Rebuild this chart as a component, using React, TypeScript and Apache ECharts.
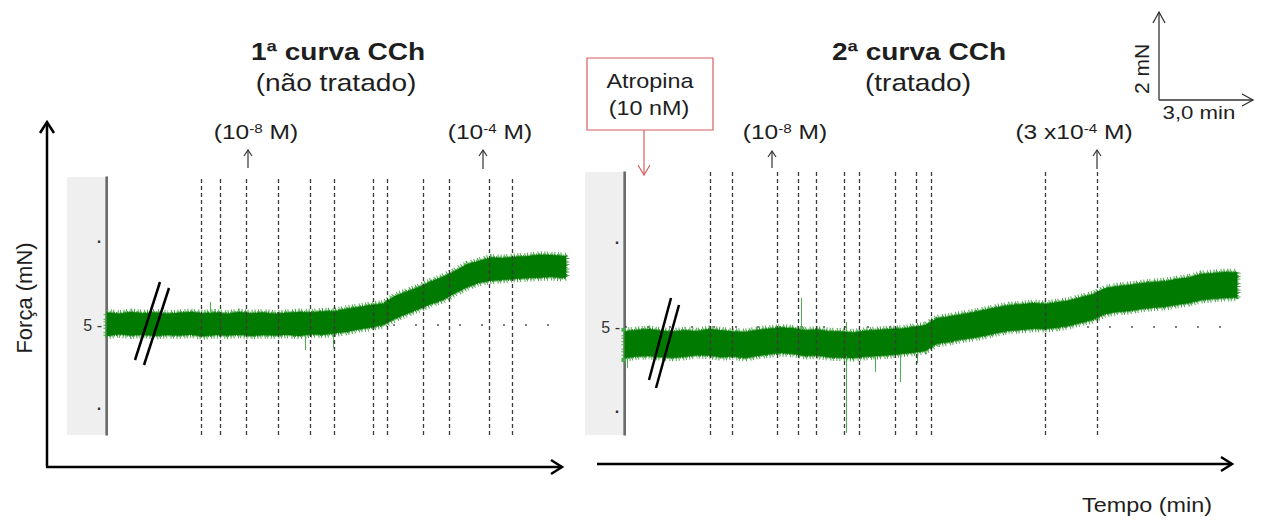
import React, { useEffect, useRef } from 'react';
import * as echarts from 'echarts';

// ---------- DATA (time in min, force in mN) ----------
const p1Time = [0, 0.4, 0.8, 1.2, 1.6, 2, 2.4, 2.8, 3.2, 3.6, 4, 4.4, 4.8, 5.2, 5.6, 6, 6.4, 6.8, 7.2, 7.6, 8, 8.4, 8.8, 9.2, 9.6, 10, 10.4, 10.8, 11.2, 11.6, 12, 12.4, 12.8, 13.2, 13.6, 14, 14.4, 14.8, 15.2, 15.3];
const p1Low = [4.74, 4.78, 4.75, 4.77, 4.74, 4.76, 4.75, 4.77, 4.73, 4.76, 4.75, 4.77, 4.74, 4.76, 4.75, 4.77, 4.74, 4.78, 4.77, 4.80, 4.84, 4.90, 4.94, 5.00, 5.15, 5.27, 5.38, 5.50, 5.60, 5.76, 5.90, 6.01, 6.06, 6.08, 6.10, 6.12, 6.13, 6.15, 6.12, 6.14];
const p1High = [5.30, 5.27, 5.31, 5.28, 5.30, 5.27, 5.29, 5.31, 5.28, 5.30, 5.27, 5.31, 5.28, 5.30, 5.27, 5.29, 5.31, 5.30, 5.33, 5.33, 5.39, 5.43, 5.48, 5.51, 5.69, 5.80, 5.91, 6.04, 6.15, 6.29, 6.45, 6.53, 6.61, 6.60, 6.63, 6.64, 6.68, 6.67, 6.65, 6.64];
const p1Doses = [3.13, 3.77, 4.63, 5.70, 6.77, 7.57, 8.87, 9.33, 10.53, 11.40, 12.73, 13.50];
const p1Spikes = [[3.43, 5.28, 5.55], [6.6, 4.76, 4.40], [7.53, 4.78, 4.44]];

const p2Time = [0, 0.4, 0.8, 1.2, 1.6, 2, 2.4, 2.8, 3.2, 3.6, 4, 4.4, 4.8, 5.2, 5.6, 6, 6.4, 6.8, 7.2, 7.6, 8, 8.4, 8.8, 9.2, 9.6, 10, 10.4, 10.8, 11.2, 11.6, 12, 12.4, 12.8, 13.2, 13.6, 14, 14.4, 14.8, 15.2, 15.6, 16, 16.4, 16.8, 17.2, 17.6, 18, 18.4, 18.8, 19.2, 19.6, 20, 20.4];
const p2Low = [4.26, 4.30, 4.31, 4.28, 4.27, 4.29, 4.33, 4.32, 4.28, 4.30, 4.26, 4.31, 4.35, 4.38, 4.36, 4.31, 4.32, 4.28, 4.27, 4.26, 4.29, 4.31, 4.33, 4.36, 4.39, 4.43, 4.60, 4.64, 4.70, 4.74, 4.79, 4.86, 4.91, 4.93, 4.96, 4.95, 4.98, 5.03, 5.10, 5.17, 5.31, 5.36, 5.38, 5.43, 5.46, 5.48, 5.53, 5.57, 5.64, 5.67, 5.69, 5.70];
const p2High = [4.90, 4.93, 4.95, 4.91, 4.89, 4.92, 4.90, 4.95, 4.92, 4.89, 4.88, 4.93, 4.96, 4.99, 4.97, 4.92, 4.94, 4.90, 4.89, 4.87, 4.91, 4.93, 4.95, 4.96, 5.00, 5.04, 5.21, 5.25, 5.30, 5.35, 5.41, 5.47, 5.52, 5.54, 5.57, 5.55, 5.59, 5.63, 5.71, 5.78, 5.92, 5.97, 6.00, 6.04, 6.07, 6.09, 6.14, 6.18, 6.26, 6.28, 6.31, 6.30];
const p2Doses = [2.83, 3.58, 5.06, 5.76, 6.36, 7.30, 7.81, 9.0, 9.70, 10.22, 14.0, 15.74];
const p2Spikes = [[0.07, 4.28, 4.02], [5.87, 4.94, 5.69], [7.37, 4.30, 2.48], [7.37, 4.90, 5.12], [8.33, 4.30, 3.93], [9.17, 4.36, 3.69], [9.73, 4.35, 4.14]];

const yTicks = [3, 5, 7];
const refLevel = 5;

const titles = [['1ª curva CCh', '(não tratado)'], ['2ª curva CCh', '(tratado)']];
const concLabels = [
  { base: '(10', sup: '-8', tail: ' M)' },
  { base: '(10', sup: '-4', tail: ' M)' },
  { base: '(10', sup: '-8', tail: ' M)' },
  { base: '(3 x10', sup: '-4', tail: ' M)' },
];

// ---------- STYLE ----------
const FONT = '"Liberation Sans", Arial, sans-serif';
const SX = 1.17;
const TXT = '#1e1e1e';
const DARK_GREEN = '#007a00';
const EDGE_GREEN = '#4aa94a';
const RED = '#d65f5f';

function txt(text: string, x: number, y: number, size: number, extra: any = {}, rot = 0, scale = SX) {
  return {
    type: 'text', x, y, rotation: rot, scaleX: scale, z: 20,
    style: { text, fontSize: size, fontFamily: FONT, fill: TXT, align: 'center', verticalAlign: 'middle', ...extra },
  };
}
function supTxt(l: { base: string; sup: string; tail: string }, x: number, y: number) {
  return {
    type: 'text', x, y, scaleX: SX, z: 20,
    style: {
      text: `${l.base}{s|${l.sup}}${l.tail}`,
      fontSize: 21, fontFamily: FONT, fill: TXT, align: 'center', verticalAlign: 'middle',
      rich: { s: { fontSize: 13, fontFamily: FONT, fill: TXT, verticalAlign: 'top', lineHeight: 13 } },
    },
  };
}
function line(x1: number, y1: number, x2: number, y2: number, color: string, w: number) {
  return { type: 'line', z: 20, shape: { x1, y1, x2, y2 }, style: { stroke: color, lineWidth: w } };
}
function chevron(points: number[][], color: string, w: number) {
  return { type: 'polyline', z: 20, shape: { points }, style: { stroke: color, lineWidth: w, fill: 'none' } };
}
function upArrow(x: number, top: number, bottom: number, color: string, w: number, hw: number, hd: number) {
  return [line(x, bottom, x, top, color, w), chevron([[x - hw, top + hd], [x, top], [x + hw, top + hd]], color, w)];
}

function panelSeries(gi: number, time: number[], lo: number[], hi: number[], doses: number[], spikes: number[][]) {
  const yi = gi * 2;
  return [
    {
      type: 'line', xAxisIndex: gi, yAxisIndex: yi, data: [], z: 1, silent: true,
      markLine: {
        silent: true, symbol: ['none', 'none'], z: 1, label: { show: false },
        lineStyle: { type: [2, 20], color: '#555', width: 1.6 },
        data: [{ yAxis: refLevel }],
      },
    },
    {
      type: 'custom', xAxisIndex: gi, yAxisIndex: yi, z: 2, silent: true, clip: false,
      data: time.map((t, i) => [t, lo[i], hi[i]]),
      renderItem: (params: any, api: any) => {
        if (params.dataIndex !== 0) return null;
        const top = time.map((t, i) => api.coord([t, hi[i]]));
        const bottom = time.map((t, i) => api.coord([t, lo[i]])).reverse();
        const pts = [...top, ...bottom];
        return {
          type: 'group',
          children: [
            { type: 'polygon', shape: { points: pts }, style: { fill: 'none', stroke: EDGE_GREEN, lineWidth: 7, lineDash: [1, 2.5, 1, 1.5, 1, 3.5, 1, 2] } },
            { type: 'polygon', shape: { points: pts }, style: { fill: 'none', stroke: '#2a912a', lineWidth: 3, lineDash: [1, 1.5, 1, 1] } },
            { type: 'polygon', shape: { points: pts }, style: { fill: DARK_GREEN, stroke: DARK_GREEN, lineWidth: 0.5 } },
          ],
        };
      },
    },
    {
      type: 'line', xAxisIndex: gi, yAxisIndex: yi, data: [], z: 5, silent: true,
      markLine: {
        silent: true, symbol: ['none', 'none'], z: 5, label: { show: false },
        data: [
          ...spikes.map((s) => [
            { coord: [s[0], s[1]], lineStyle: { type: 'solid', color: '#4caf50', width: 1 } },
            { coord: [s[0], s[2]] },
          ]),
          ...doses.map((d) => ({ xAxis: d, lineStyle: { type: [4, 3], color: '#3c3c3c', width: 1.3 } })),
        ],
      },
    },
  ];
}

function yAxes(gi: number, min: number, max: number) {
  return [
    {
      type: 'value', gridIndex: gi, min, max, position: 'left',
      axisLine: { show: true, lineStyle: { color: '#3a3a3a', width: 1.5 } },
      axisTick: { show: false }, splitLine: { show: false },
      axisLabel: {
        customValues: yTicks, margin: 5, color: '#333', fontSize: 16,
        fontFamily: '"Liberation Sans Narrow", "Liberation Sans", sans-serif',
        formatter: (v: number) => (v === 5 ? '5 -' : '{d|·}'),
        rich: { d: { fontSize: 16, fontWeight: 'bold', color: '#333' } },
      },
    },
    {
      type: 'value', gridIndex: gi, min, max, position: 'left', offset: 2,
      axisLine: { show: true, lineStyle: { color: '#9a9a9a', width: 1 } },
      axisTick: { show: false }, splitLine: { show: false }, axisLabel: { show: false },
    },
  ];
}

const graphics: any[] = [
  { type: 'rect', z: -1, shape: { x: 67, y: 177, width: 38, height: 258 }, style: { fill: '#efefef' } },
  { type: 'rect', z: -1, shape: { x: 585, y: 172, width: 38, height: 263 }, style: { fill: '#efefef' } },
  txt(titles[0][0], 338, 52, 24, { fontWeight: 'bold' }),
  txt(titles[0][1], 336, 83, 24),
  txt(titles[1][0], 919, 52, 24, { fontWeight: 'bold' }),
  txt(titles[1][1], 918, 83, 24),
  supTxt(concLabels[0], 256, 132),
  ...upArrow(248, 150, 168, '#333', 1.2, 4, 6),
  supTxt(concLabels[1], 490, 132),
  ...upArrow(483, 150, 169, '#333', 1.2, 4, 6),
  supTxt(concLabels[2], 785, 132),
  ...upArrow(772, 151, 168, '#333', 1.2, 4, 6),
  supTxt(concLabels[3], 1074, 132),
  ...upArrow(1097, 150, 169, '#333', 1.2, 4, 6),
  { type: 'rect', z: 20, shape: { x: 587, y: 58, width: 126, height: 72 }, style: { fill: '#fff', stroke: RED, lineWidth: 1.2 } },
  txt('Atropina', 650, 81, 20),
  txt('(10 nM)', 649, 108, 20),
  line(644, 130, 644, 175, RED, 1.2),
  chevron([[638, 165], [644, 175], [650, 165]], RED, 1.2),
  line(47, 467, 47, 122, '#000', 2.5),
  chevron([[40, 133], [47, 122], [54, 133]], '#000', 2.5),
  line(46, 467, 562, 467, '#000', 2.5),
  chevron([[551, 460], [562, 467], [551, 474]], '#000', 2.5),
  line(597, 464, 1232, 464, '#000', 2.5),
  chevron([[1221, 457], [1232, 464], [1221, 471]], '#000', 2.5),
  txt('Força (mN)', 24, 298, 22, {}, Math.PI / 2, 1),
  txt('Tempo (min)', 1147, 505, 20),
  line(1159, 100, 1159, 12, '#333', 1.3),
  chevron([[1153, 23], [1159, 12], [1165, 23]], '#333', 1.3),
  line(1159, 100, 1253, 100, '#333', 1.3),
  chevron([[1242, 94], [1253, 100], [1242, 106]], '#333', 1.3),
  txt('2 mN', 1141, 69, 21, {}, Math.PI / 2, 1),
  txt('3,0 min', 1199, 112, 19),
  line(160, 282, 135, 360, '#000', 2.5),
  line(169, 288, 144, 365, '#000', 2.5),
  line(671, 298, 649, 380, '#000', 2.5),
  line(679, 305, 656, 388, '#000', 2.5),
];

const option: any = {
  animation: false,
  backgroundColor: '#ffffff',
  grid: [
    { left: 107, top: 177, width: 459, height: 258 },
    { left: 625, top: 172, width: 613, height: 263 },
  ],
  xAxis: [
    { type: 'value', gridIndex: 0, min: 0, max: 15.3, show: false },
    { type: 'value', gridIndex: 1, min: 0, max: 20.43, show: false },
  ],
  yAxis: [...yAxes(0, 2.372, 8.536), ...yAxes(1, 2.429, 8.69)],
  series: [
    ...panelSeries(0, p1Time, p1Low, p1High, p1Doses, p1Spikes),
    ...panelSeries(1, p2Time, p2Low, p2High, p2Doses, p2Spikes),
  ],
  graphic: graphics,
};

export default function App() {
  const ref = useRef<HTMLDivElement>(null);
  useEffect(() => {
    const chart = echarts.init(ref.current as HTMLDivElement, null, { renderer: 'svg' });
    chart.setOption(option);
    return () => chart.dispose();
  }, []);
  return <div ref={ref} style={{ position: 'absolute', left: 0, top: 0, width: 1264, height: 522, background: '#fff' }} />;
}
